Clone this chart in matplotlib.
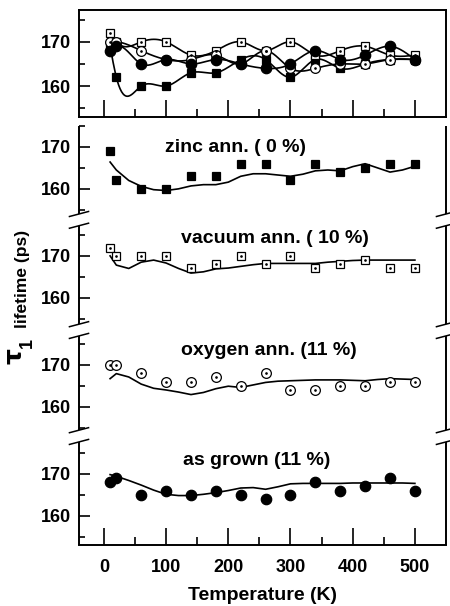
import numpy as np
import matplotlib
matplotlib.use("Agg")
import matplotlib.pyplot as plt
import matplotlib.transforms as mtransforms

plt.rcParams['font.family'] = ['Liberation Sans', 'DejaVu Sans']
plt.rcParams['font.weight'] = 'bold'

# ---------------- data ----------------
temps = [10, 20, 60, 100, 140, 180, 220, 260, 300, 340, 380, 420, 460, 500]
zinc = [169, 162, 160, 160, 163, 163, 166, 166, 162, 166, 164, 165, 166, 166]
vacuum = [172, 170, 170, 170, 167, 168, 170, 168, 170, 167, 168, 169, 167, 167]
oxygen = [170, 170, 168, 166, 166, 167, 165, 168, 164, 164, 165, 165, 166, 166]
grown = [168, 169, 165, 166, 165, 166, 165, 164, 165, 168, 166, 167, 169, 166]

fit_t = [10, 20, 40, 60, 80, 100, 120, 140, 160, 180, 200, 220, 240, 260, 280,
         300, 320, 340, 360, 380, 400, 420, 440, 460, 480, 500]
zinc_fit = [166.4, 164.5, 162.0, 160.6, 159.8, 159.6, 160.0, 160.7, 161.0, 161.0,
            161.6, 163.0, 163.6, 163.6, 163.3, 163.0, 163.5, 164.3, 164.5, 164.3,
            165.3, 166.0, 165.0, 164.0, 164.5, 165.4]
vacuum_fit = [170.0, 167.8, 167.0, 168.5, 169.0, 168.3, 167.0, 165.9, 166.2, 166.9,
              167.1, 167.5, 167.9, 168.2, 168.2, 168.2, 168.2, 168.2, 168.5, 168.7,
              168.9, 169.0, 169.0, 169.0, 169.0, 169.0]
oxygen_fit = [166.7, 167.9, 167.1, 165.4, 164.4, 164.0, 163.5, 162.9, 163.4, 164.3,
              164.9, 164.6, 165.2, 165.8, 166.1, 166.2, 166.3, 166.4, 166.4, 166.4,
              166.3, 166.2, 166.5, 166.7, 166.6, 166.5]
grown_fit = [169.8, 169.4, 168.4, 167.3, 166.1, 165.1, 164.8, 164.8, 165.1, 165.5,
             166.0, 166.6, 166.7, 166.3, 166.9, 167.6, 167.7, 167.7, 167.7, 167.7,
             167.8, 167.8, 167.8, 167.8, 167.8, 167.7]

labels = ["zinc ann. ( 0 %)", "vacuum ann. ( 10 %)", "oxygen ann. (11 %)", "as grown (11 %)"]
xticks = [0, 100, 200, 300, 400, 500]
yticks_vals = [160, 170]


def natural_spline(x, y, n=400):
    x = np.asarray(x, float); y = np.asarray(y, float)
    m = len(x); h = np.diff(x)
    A = np.zeros((m, m)); b = np.zeros(m)
    A[0, 0] = 1; A[-1, -1] = 1
    for i in range(1, m - 1):
        A[i, i - 1] = h[i - 1]; A[i, i] = 2 * (h[i - 1] + h[i]); A[i, i + 1] = h[i]
        b[i] = 3 * ((y[i + 1] - y[i]) / h[i] - (y[i] - y[i - 1]) / h[i - 1])
    c = np.linalg.solve(A, b)
    bb = (y[1:] - y[:-1]) / h - h * (2 * c[:-1] + c[1:]) / 3
    d = (c[1:] - c[:-1]) / (3 * h)
    xs = np.linspace(x[0], x[-1], n)
    idx = np.clip(np.searchsorted(x, xs) - 1, 0, m - 2)
    dx = xs - x[idx]
    ys = y[idx] + bb[idx] * dx + c[idx] * dx ** 2 + d[idx] * dx ** 3
    return xs, ys


fig = plt.figure(figsize=(4.5, 6.06), dpi=100)
W, H = 450, 606
L, R = 79, 446
ax1 = fig.add_axes([L / W, 1 - 117 / H, (R - L) / W, (117 - 10) / H])
ax2 = fig.add_axes([L / W, 1 - 545 / H, (R - L) / W, (545 - 126) / H])

series = [zinc, vacuum, oxygen, grown]
fits = [zinc_fit, vacuum_fit, oxygen_fit, grown_fit]
styles = [dict(marker='s', mfc='black', ms=6.2),
          dict(marker='s', mfc='white', ms=6.2),
          dict(marker='o', mfc='white', ms=7),
          dict(marker='o', mfc='black', ms=7.5)]
dots = [False, True, True, False]

lw = 1.2
# ---- top panel ----
for s, st, dt in zip(series, styles, dots):
    xs, ys = natural_spline(temps, s)
    ax1.plot(xs, ys, color='black', lw=lw, zorder=2)
    ax1.plot(temps, s, ls='none', mec='black', mew=0.9, zorder=3, **st)
    if dt:
        ax1.plot(temps, s, ls='none', marker='.', ms=1.8, color='black', zorder=4)
ax1.set_xlim(-40, 550)
ax1.set_ylim(153, 177.2)
ax1.set_yticks(yticks_vals)
ax1.set_yticks([155, 165, 175], minor=True)
ax1.set_xticks(xticks)
ax1.set_xticks([50, 150, 250, 350, 450], minor=True)
ax1.set_xticklabels([])
ax1.tick_params(axis='y', which='major', direction='in', length=8, width=1.2, labelsize=13, pad=6)
ax1.tick_params(axis='y', which='minor', direction='in', length=4, width=1.2)
ax1.tick_params(axis='x', which='major', direction='in', length=12, width=1.2)
ax1.tick_params(axis='x', which='minor', direction='in', length=6, width=1.2)
for sp in ax1.spines.values():
    sp.set_linewidth(1.4)

# ---- bottom panel ----
offsets = [78, 52, 26, 0]
for s, f, st, dt, off in zip(series, fits, styles, dots, offsets):
    ax2.plot(fit_t, np.array(f) + off, color='black', lw=lw, zorder=2)
    ax2.plot(temps, np.array(s) + off, ls='none', mec='black', mew=0.9, zorder=3, **st)
    if dt:
        ax2.plot(temps, np.array(s) + off, ls='none', marker='.', ms=1.8, color='black', zorder=4)
ax2.set_xlim(-40, 550)
ax2.set_ylim(153, 253)
maj, majlab, mnr = [], [], []
for off in offsets:
    for v in yticks_vals:
        maj.append(v + off); majlab.append(str(v))
    for v in [155, 165, 175]:
        mnr.append(v + off)
ax2.set_yticks(maj)
ax2.set_yticklabels(majlab)
ax2.set_yticks(mnr, minor=True)
ax2.set_xticks(xticks)
ax2.set_xticks([50, 150, 250, 350, 450], minor=True)
ax2.tick_params(axis='y', which='major', direction='in', length=8, width=1.2, labelsize=13, pad=6)
ax2.tick_params(axis='y', which='minor', direction='in', length=4, width=1.2)
ax2.tick_params(axis='x', which='major', direction='in', length=12, width=1.2, labelsize=13, pad=10)
ax2.tick_params(axis='x', which='minor', direction='in', length=6, width=1.2)
ax2.spines['top'].set_visible(False)
ax2.spines['left'].set_visible(False)
ax2.spines['right'].set_visible(False)
ax2.spines['bottom'].set_linewidth(1.4)

# broken side spines
breaks = [230.6, 204.3, 179.0]
gap = 1.4
tr = mtransforms.blended_transform_factory(ax2.transAxes, ax2.transData)
edges = [153]
for b in sorted(breaks):
    edges += [b - gap, b + gap]
edges.append(253)
for xa in [0, 1]:
    for i in range(0, len(edges), 2):
        ax2.plot([xa, xa], [edges[i], edges[i + 1]], color='black', lw=1.4,
                 transform=tr, clip_on=False, solid_capstyle='butt')
    for b in breaks:
        for yy in [b - gap, b + gap]:
            ax2.plot([xa - 0.026, xa + 0.026], [yy - 0.6, yy + 0.6], color='black',
                     lw=1.1, transform=tr, clip_on=False)

label_pos = [(211, 246.7), (275, 225.1), (265, 198.3), (246, 172.1)]
for lab, (lx, ly) in zip(labels, label_pos):
    ax2.text(lx, ly, lab, ha='center', va='baseline', fontsize=14, fontweight='bold')

fig.text(262 / W, 1 - 595 / H, "Temperature (K)", ha='center', va='center',
         fontsize=14, fontweight='bold')
fig.text(14 / W, 1 - 356 / H, "τ", rotation=90, ha='center', va='center',
         fontsize=18, fontweight='bold', family=['DejaVu Sans'])
fig.text(27 / W, 1 - 343 / H, "1", rotation=90, ha='center', va='center',
         fontsize=13, fontweight='bold')
fig.text(23 / W, 1 - 279 / H, "lifetime (ps)", rotation=90, ha='center', va='center',
         fontsize=12.5, fontweight='bold')

fig.savefig("out.png", dpi=100)
